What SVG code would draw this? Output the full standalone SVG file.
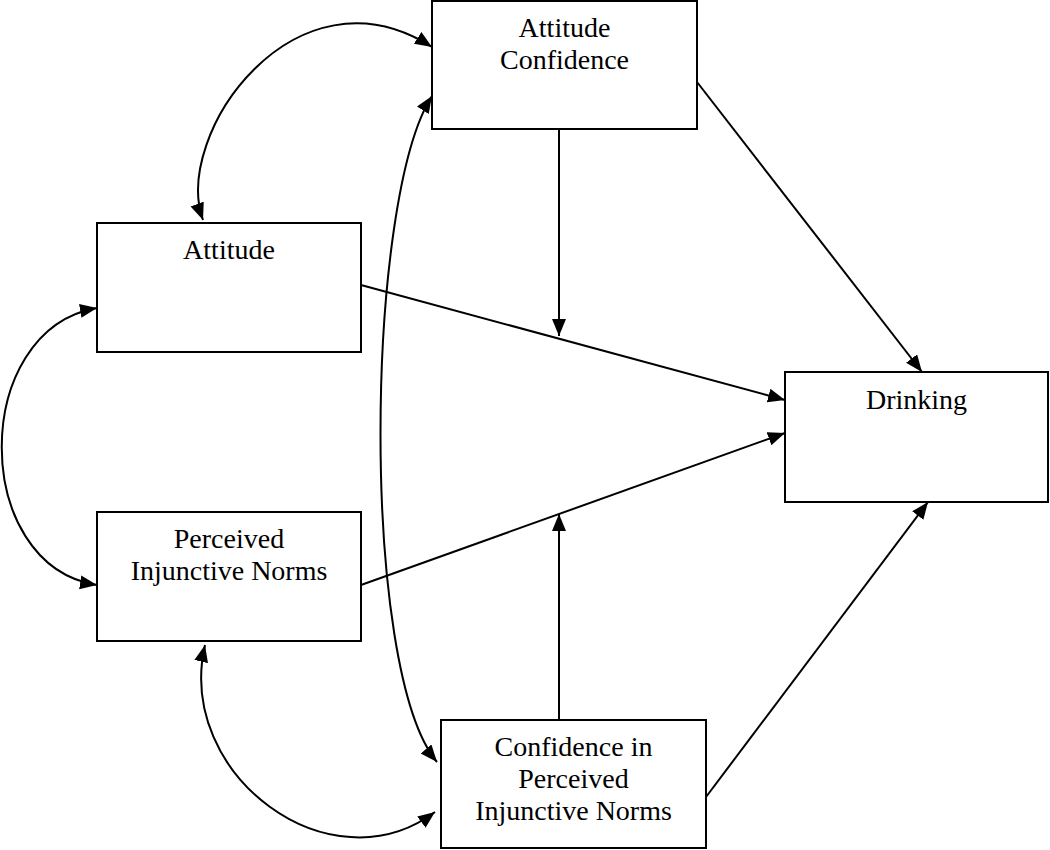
<svg xmlns="http://www.w3.org/2000/svg" width="1050" height="850" viewBox="0 0 1050 850">
<style>
.box{fill:#fff;stroke:#000;stroke-width:2}
.lbl{font-family:"Liberation Serif","Times New Roman",serif;font-size:28px;fill:#000;text-anchor:middle}
.c{fill:none;stroke:#000;stroke-width:2}
.a{marker-end:url(#ah)}
.b{marker-start:url(#ah);marker-end:url(#ah)}
</style>
<defs>
<marker id="ah" markerUnits="userSpaceOnUse" markerWidth="18" markerHeight="15" refX="17" refY="7" orient="auto-start-reverse">
<path d="M0,0 L17,7 L0,14 z" fill="#000"/>
</marker>
</defs>
<rect width="1050" height="850" fill="#fff"/>
<g id="connectors">
<path class="c a" d="M361,285 L785,400"/>
<path class="c a" d="M361,585 L785,433"/>
<path class="c a" d="M697,82 L922,372"/>
<path class="c a" d="M706,797 L928,502"/>
<path class="c a" d="M559,129 L559,336"/>
<path class="c a" d="M559,720 L559,514"/>
<path class="c b" d="M203,220 C172,135 295,-40 432,47"/>
<path class="c b" d="M97,308 C-30,330 -30,565 97,585"/>
<path class="c b" d="M205,645 C175,775 330,890 435,812"/>
<path class="c b" d="M432,96 C365,200 360,670 437,762"/>
</g>
<g id="attitude-confidence">
<rect class="box" x="432" y="1" width="265" height="128"/>
<text class="lbl" x="564.5" y="37">Attitude</text>
<text class="lbl" x="564.5" y="69">Confidence</text>
</g>
<g id="attitude">
<rect class="box" x="97" y="223" width="264" height="129"/>
<text class="lbl" x="229" y="259">Attitude</text>
</g>
<g id="perceived-injunctive-norms">
<rect class="box" x="97" y="512" width="264" height="129"/>
<text class="lbl" x="229" y="548">Perceived</text>
<text class="lbl" x="229" y="580">Injunctive Norms</text>
</g>
<g id="drinking">
<rect class="box" x="785" y="372" width="263" height="130"/>
<text class="lbl" x="916.5" y="409">Drinking</text>
</g>
<g id="confidence-pin">
<rect class="box" x="441" y="720" width="265" height="128"/>
<text class="lbl" x="573.5" y="756">Confidence in</text>
<text class="lbl" x="573.5" y="788">Perceived</text>
<text class="lbl" x="573.5" y="820">Injunctive Norms</text>
</g>
</svg>
